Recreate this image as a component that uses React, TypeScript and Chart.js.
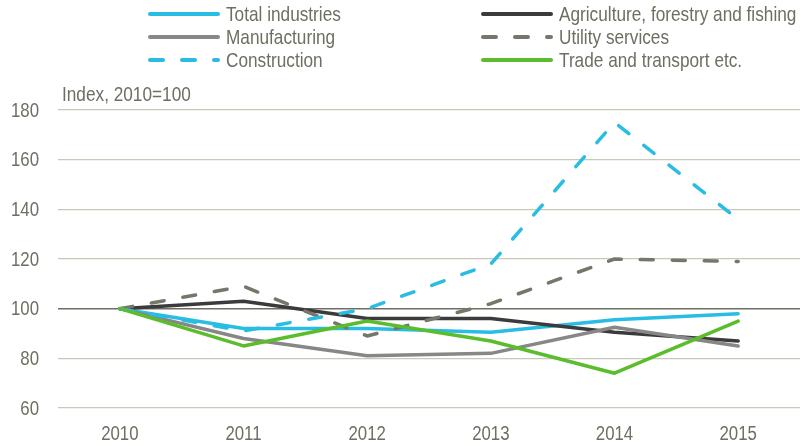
import React, { useEffect, useRef } from "react";
import { Chart, registerables } from "chart.js";

Chart.register(...registerables);

const years = ["2010", "2011", "2012", "2013", "2014", "2015"];
const totalIndustries = [100, 92, 92, 90.5, 95.5, 98];
const agriculture = [100, 103, 96, 96, 90.5, 87];
const manufacturing = [100, 88, 81, 82, 92.5, 85];
const utilityServices = [100, 109, 89, 102, 120, 119];
const construction = [100, 91, 100, 118, 175, 136];
const tradeTransport = [100, 85, 95, 87, 74, 95];
const yTicks = [60, 80, 100, 120, 140, 160, 180];
const axisTitle = "Index, 2010=100";

const FONT = '"Liberation Sans", Arial, sans-serif';
const LEGEND_SIZE = 21;
const TICK_SIZE = 20.5;
const NARROW = 0.82;
const TEXT = "#6e6e62";
const CYAN = "#29bde3";
const DASH = [13, 19];

const series = [
  { label: "Total industries", data: totalIndustries, color: CYAN, dash: [] as number[], col: 0, row: 0 },
  { label: "Agriculture, forestry and fishing", data: agriculture, color: "#3b3b3b", dash: [] as number[], col: 1, row: 0 },
  { label: "Manufacturing", data: manufacturing, color: "#878787", dash: [] as number[], col: 0, row: 1 },
  { label: "Utility services", data: utilityServices, color: "#76766a", dash: DASH, col: 1, row: 1 },
  { label: "Construction", data: construction, color: CYAN, dash: DASH, col: 0, row: 2 },
  { label: "Trade and transport etc.", data: tradeTransport, color: "#5bbd2b", dash: [] as number[], col: 1, row: 2 },
];

function narrowText(ctx: CanvasRenderingContext2D, text: string, x: number, y: number, align: CanvasTextAlign) {
  ctx.save();
  ctx.translate(x, y);
  ctx.scale(NARROW, 1);
  ctx.textAlign = align;
  ctx.textBaseline = "middle";
  ctx.fillText(text, 0, 0);
  ctx.restore();
}

const textPlugin = {
  id: "narrowText",
  afterDraw(chart: any) {
    const ctx = chart.ctx as CanvasRenderingContext2D;
    ctx.save();
    ctx.font = `${LEGEND_SIZE}px ${FONT}`;
    ctx.fillStyle = TEXT;
    // legend
    const colX = [148, 481];
    const rowY = [14, 37, 60];
    series.forEach((s) => {
      const x = colX[s.col];
      const y = rowY[s.row];
      ctx.beginPath();
      ctx.strokeStyle = s.color;
      ctx.lineWidth = 4;
      ctx.lineCap = "round";
      ctx.setLineDash(s.dash);
      ctx.moveTo(x + 2, y);
      ctx.lineTo(x + 70, y);
      ctx.stroke();
      ctx.setLineDash([]);
      narrowText(ctx, s.label, x + 78, y + 1, "left");
    });
    narrowText(ctx, axisTitle, 62, 95, "left");
    ctx.font = `${TICK_SIZE}px ${FONT}`;
    // axis tick labels, positioned by the scales
    const xs = chart.scales.x;
    const ys = chart.scales.y;
    years.forEach((lab, i) => {
      narrowText(ctx, lab, xs.getPixelForTick(i), chart.chartArea.bottom + 26, "center");
    });
    yTicks.forEach((v) => {
      narrowText(ctx, String(v), chart.chartArea.left - 19, ys.getPixelForValue(v) + 1, "right");
    });
    ctx.restore();
  },
};

export default function App() {
  const ref = useRef<HTMLCanvasElement | null>(null);
  useEffect(() => {
    if (!ref.current) return;
    const chart = new Chart(ref.current, {
      type: "line",
      data: {
        labels: years,
        datasets: series.map((s, i) => ({
          label: s.label,
          data: s.data,
          borderColor: s.color,
          backgroundColor: s.color,
          borderWidth: 3.5,
          borderDash: s.dash,
          borderCapStyle: "round",
          borderJoinStyle: "round",
          pointRadius: 0,
          tension: 0,
          fill: false,
          order: series.length - i,
        })),
      },
      options: {
        animation: false,
        responsive: false,
        devicePixelRatio: 1,
        layout: { padding: { top: 110, right: 10, bottom: 38, left: 0 } },
        plugins: { legend: { display: false }, tooltip: { enabled: false }, title: { display: false } },
        scales: {
          x: {
            offset: true,
            grid: { display: false, drawTicks: false },
            border: { display: false },
            ticks: { display: false },
            afterFit: (scale: any) => {
              scale.height = 0;
            },
          },
          y: {
            min: 60,
            max: 180,
            afterFit: (scale: any) => {
              scale.width = 58;
            },
            afterBuildTicks: (scale: any) => {
              scale.ticks = yTicks.map((v) => ({ value: v }));
            },
            grid: {
              drawTicks: false,
              color: (c: any) => (c.tick && c.tick.value === 100 ? "#6e6e62" : "#c8c8bb"),
              lineWidth: (c: any) => (c.tick && c.tick.value === 100 ? 1.6 : 1.2),
            },
            border: { display: false },
            ticks: { display: false },
          },
        },
      },
      plugins: [textPlugin],
    } as any);
    return () => chart.destroy();
  }, []);
  return (
    <div style={{ position: "fixed", left: 0, top: 0, width: 810, height: 446, background: "#fff" }}>
      <canvas ref={ref} width={810} height={446} style={{ display: "block", width: 810, height: 446 }} />
    </div>
  );
}
